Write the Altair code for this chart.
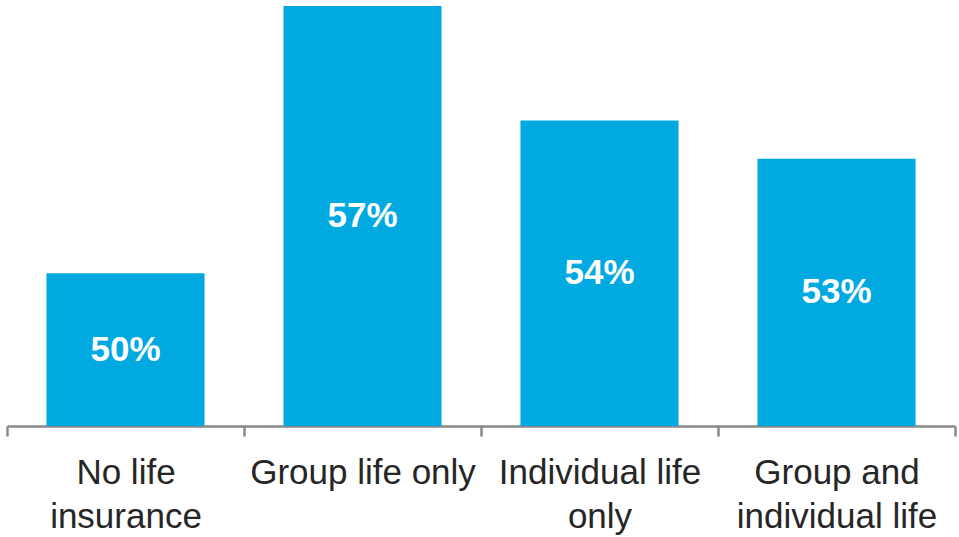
import altair as alt
import pandas as pd

categories = ["No life\ninsurance", "Group life only", "Individual life\nonly", "Group and\nindividual life"]
values = [50, 57, 54, 53]
labels = ["50%", "57%", "54%", "53%"]

df = pd.DataFrame({"cat": categories, "val": values, "lab": labels})

base_val = 46

x = alt.X(
    "cat:N",
    sort=None,
    title=None,
    scale=alt.Scale(paddingInner=0, paddingOuter=0),
    axis=alt.Axis(
        labelAngle=0,
        labelFont="Liberation Sans",
        labelFontSize=35,
        labelColor="#262626",
        labelPadding=19,
        labelLineHeight=44,
        labelLimit=500,
        labelExpr="split(datum.label, '\\n')",
        domainColor="#898989",
        domainWidth=2.5,
        tickColor="#898989",
        tickWidth=2.5,
        tickSize=10,
        tickBand="extent",
        grid=False,
    ),
)

y = alt.Y("val:Q", scale=alt.Scale(domain=[base_val, 57], zero=False, nice=False), axis=None)

bars = alt.Chart(df).mark_bar(color="#00A9E0", width=alt.RelativeBandSize(0.667)).encode(
    x=x, y=y, y2=alt.datum(base_val)
)

text = alt.Chart(df).transform_calculate(
    mid="(datum.val + %d) / 2" % base_val
).mark_text(
    font="Liberation Sans", fontSize=35, fontWeight="bold", color="white", baseline="middle"
).encode(
    x=alt.X("cat:N", sort=None),
    y=alt.Y("mid:Q"),
    text="lab:N",
)

chart = alt.layer(bars, text).properties(
    width=948,
    height=420,
    background="white",
    autosize=alt.AutoSizeParams(type="none"),
    padding={"left": 7, "top": 6, "right": 4, "bottom": 111},
).configure_view(stroke="transparent", strokeWidth=0)

chart.save("out.html", embed_options={"renderer": "svg", "actions": False})
